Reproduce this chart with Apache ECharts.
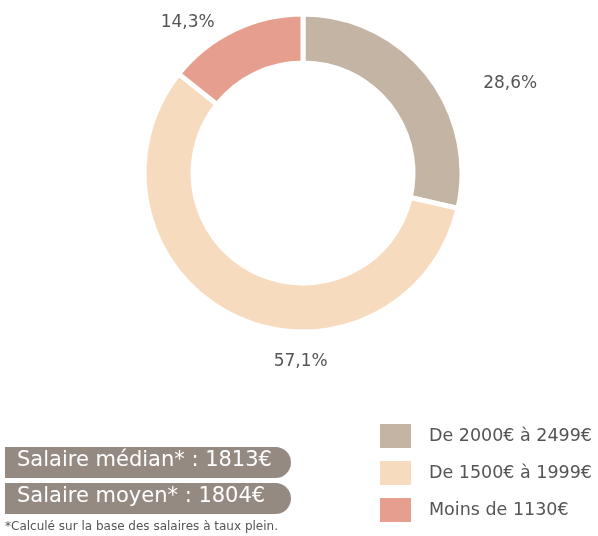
<!DOCTYPE html>
<html>
<head>
<meta charset="utf-8">
<script src="https://cdn.jsdelivr.net/npm/echarts@6/dist/echarts.min.js"></script>
<style>
  html,body{margin:0;padding:0;background:#fff}
  #main{width:598px;height:536px}
</style>
</head>
<body>
<div id="main"></div>
<script>
// données
let categories=['De 2000€ à 2499€','De 1500€ à 1999€','Moins de 1130€']
let values=[2,4,1]
let colors=['#c4b4a4','#f7dbbf','#e69f8e']
// décalage des étiquettes
let labelShift=[[43,16],[103,36],[-10,2]]
let salaires=['Salaire médian* : 1813€','Salaire moyen* : 1804€']
let note='*Calculé sur la base des salaires à taux plein.'

let font='"DejaVu Sans", sans-serif'
let total=values.reduce((a,b)=>a+b,0)

let data=categories.map((c,i)=>({name:c,value:values[i],itemStyle:{color:colors[i]}}))

var myChart=echarts.init(document.getElementById('main'))

let boxes=[]
salaires.forEach((s,i)=>{
  boxes.push({
    type:'rect',left:5,top:447+i*36,
    shape:{width:286,height:31,r:[0,16,16,0]},
    style:{fill:'#958a82'}
  })
  boxes.push({
    type:'text',left:17,top:450+i*36,
    style:{text:s,fill:'#fff',font:'21px '+font}
  })
})
boxes.push({
  type:'text',left:5,top:521,
  style:{text:note,fill:'#555',font:'12px '+font}
})

option={
  animation:false,
  legend:{
    orient:'vertical',
    left:373,
    top:417,
    itemWidth:33,
    itemHeight:26,
    itemGap:9,
    icon:'rect',
    textStyle:{fontFamily:font,fontSize:17.5,color:'#555',padding:[0,0,0,12]},
    data:categories
  },
  series:[
    {
      type:'pie',
      center:[303,173],
      radius:[110,159],
      startAngle:90,
      clockwise:true,
      itemStyle:{borderColor:'#fff',borderWidth:5},
      label:{
        show:true,
        position:'outside',
        fontFamily:font,
        fontSize:17,
        color:'#555',
        formatter:p=>(p.value/total*100).toFixed(1).replace('.',',')+'%'
      },
      labelLine:{show:false,length:10,length2:0},
      labelLayout:p=>({dx:labelShift[p.dataIndex][0],dy:labelShift[p.dataIndex][1]}),
      emphasis:{disabled:true},
      data:data
    }
  ],
  graphic:boxes
}
myChart.setOption(option)
</script>
</body>
</html>
